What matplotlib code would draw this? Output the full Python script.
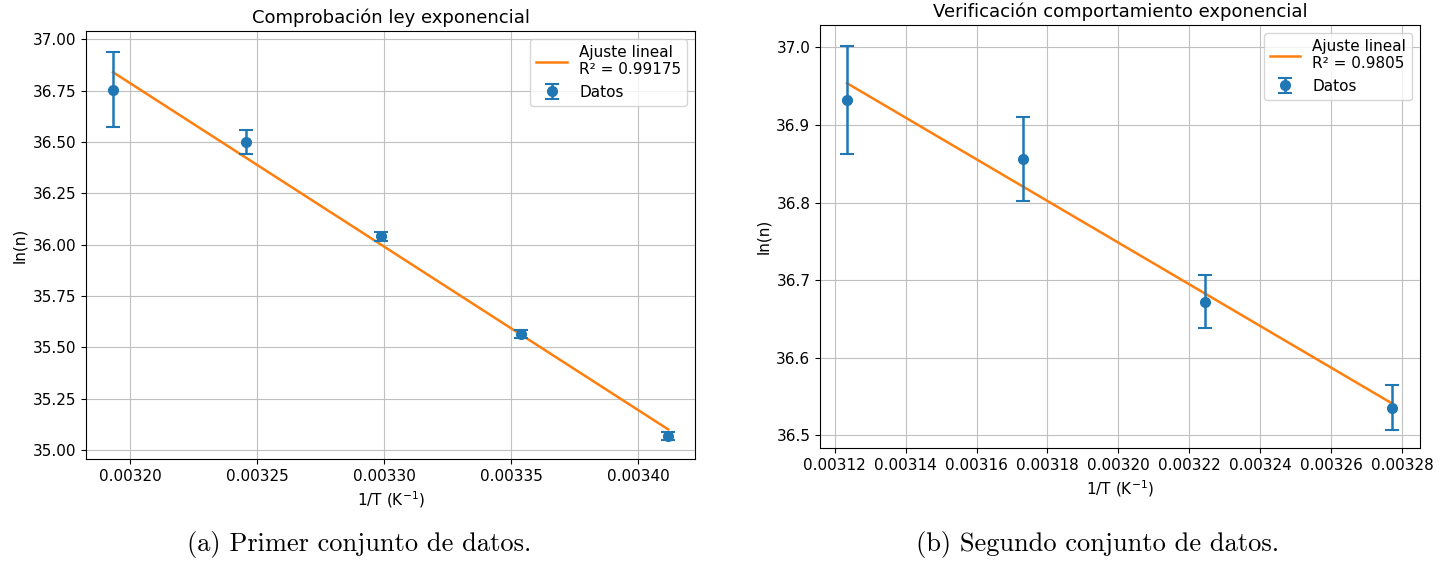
import numpy as np
import matplotlib
matplotlib.use('Agg')
import matplotlib.pyplot as plt

# Primer conjunto
x1 = [0.0031932, 0.0032454, 0.0032988, 0.0033540, 0.0034117]
y1 = [36.755, 36.500, 36.042, 35.565, 35.070]
e1 = [0.183, 0.060, 0.022, 0.018, 0.020]
fit1 = (-7963.0, 62.268)   # pendiente, ordenada
r2_1 = "0.99175"

# Segundo conjunto
x2 = [0.0031235, 0.0031732, 0.0032244, 0.0032771]
y2 = [36.932, 36.856, 36.672, 36.535]
e2 = [0.070, 0.054, 0.034, 0.029]
fit2 = (-2689.0, 45.353)
r2_2 = "0.9805"

xticks1 = [0.00320, 0.00325, 0.00330, 0.00335, 0.00340]
yticks1 = [35.00, 35.25, 35.50, 35.75, 36.00, 36.25, 36.50, 36.75, 37.00]
xticks2 = [0.00312, 0.00314, 0.00316, 0.00318, 0.00320, 0.00322, 0.00324, 0.00326, 0.00328]
yticks2 = [36.5, 36.6, 36.7, 36.8, 36.9, 37.0]

fig = plt.figure(figsize=(14.44, 5.63), dpi=100)


def panel(ax, x, y, e, fit, r2, title, xticks, yticks, yfmt):
    x = np.array(x)
    m, b = fit
    ax.plot(x, m * x + b, color='C1', linewidth=1.8, label=f'Ajuste lineal\nR² = {r2}')
    ax.errorbar(x, y, yerr=e, fmt='o', color='C0', markersize=7,
                capsize=5, elinewidth=1.8, capthick=1.5, label='Datos')
    ax.set_title(title, fontsize=13)
    ax.set_xlabel('1/T (K$^{-1}$)', fontsize=11)
    ax.set_ylabel('ln(n)', fontsize=11)
    ax.set_xticks(xticks)
    ax.set_xticklabels([f'{t:.5f}' for t in xticks])
    ax.set_yticks(yticks)
    ax.set_yticklabels([yfmt.format(t) for t in yticks])
    ax.tick_params(labelsize=11)
    ax.grid(True, color='#c0c0c0')
    ax.legend(loc='upper right', fontsize=11)


ax1 = fig.add_axes([0.0596, 0.1847, 0.4217, 0.7602])
panel(ax1, x1, y1, e1, fit1, r2_1, 'Comprobación ley exponencial', xticks1, yticks1, '{:.2f}')
ax1.set_xlim(0.0031826, 0.0034223)
ax1.set_ylim(34.956, 37.041)

ax2 = fig.add_axes([0.5679, 0.2043, 0.4155, 0.7513])
panel(ax2, x2, y2, e2, fit2, r2_2, 'Verificación comportamiento exponencial', xticks2, yticks2, '{:.1f}')
ax2.set_xlim(0.0031159, 0.003285)
ax2.set_ylim(36.4834, 37.029)

fig.text(0.249, 1 - 545 / 563, '(a) Primer conjunto de datos.', family='cmr10',
         fontsize=19, ha='center', va='center')
fig.text(0.760, 1 - 545 / 563, '(b) Segundo conjunto de datos.', family='cmr10',
         fontsize=19, ha='center', va='center')

fig.savefig('out.png', dpi=100)
